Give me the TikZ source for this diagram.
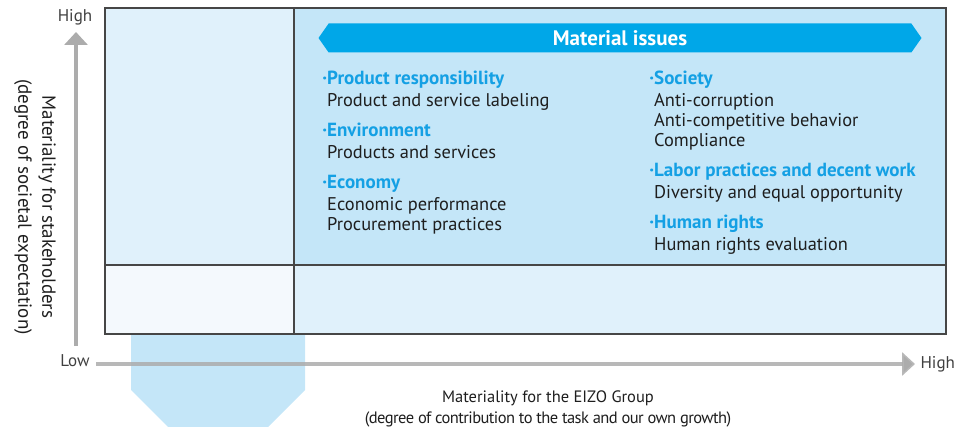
\documentclass[tikz,border=0pt]{standalone}
\usepackage{fontspec}
\setmainfont{PT Sans}
\usetikzlibrary{shapes.symbols, arrows.meta, positioning}
\definecolor{cCellA}{RGB}{224,241,251}
\definecolor{cCellB}{RGB}{196,230,248}
\definecolor{cCellC}{RGB}{244,249,253}
\definecolor{cBanner}{RGB}{0,167,232}
\definecolor{cHead}{RGB}{20,160,228}
\definecolor{cAxis}{RGB}{172,172,172}
\definecolor{cLine}{RGB}{70,70,70}
\definecolor{cText}{RGB}{30,30,30}
\tikzset{
  cellbox/.style={draw=cLine, line width=1.2pt},
  bannernode/.style={signal, signal to=east and west, signal pointer angle=110,
                     fill=cBanner, text=white, font=\fontsize{21}{24}\selectfont\bfseries,
                     minimum width=603pt, minimum height=29pt, inner sep=0pt},
  groupnode/.style={anchor=north west, align=left, inner sep=0pt, text=cText,
                    font=\fontsize{18.4}{20}\selectfont},
  axisarrow/.style={draw=cAxis, line width=4pt,
                    -{Triangle[length=13pt, width=23pt]}},
  axislabel/.style={text=black!75, font=\fontsize{17}{18}\selectfont},
  titlenode/.style={align=center, text=cText, font=\fontsize{16.5}{21}\selectfont},
  sidetitle/.style={align=center, text=cText, font=\fontsize{19}{24}\selectfont}
}
\newcommand{\grouphead}[1]{{\color{cHead}\fontsize{19}{20}\selectfont\bfseries\llap{·}#1}\\[2pt]}

\begin{document}
\begin{tikzpicture}[x=1pt, y=-1pt]
  \useasboundingbox (0,0) rectangle (955,427);
  % quadrants
  \fill[cCellB] (131,334) -- (305,334) -- (305,390) -- (268,427)
    -- (168,427) -- (131,390) -- cycle;
  \fill[cCellA] (105,8) rectangle (294,265);
  \fill[cCellB] (294,8) rectangle (946,265);
  \fill[cCellC] (105,265) rectangle (294,334);
  \fill[cCellA] (294,265) rectangle (946,334);
  \draw[cellbox] (105,8) rectangle (946,334);
  \draw[cellbox] (294,8) -- (294,334);
  \draw[cellbox] (105,265) -- (946,265);

  % axes
  \coordinate (yfoot) at (76,346);
  \coordinate (ytip) at (76,32);
  \coordinate (xfoot) at (96,364);
  \coordinate (xtip) at (915,364);
  \draw[axisarrow] (yfoot) -- (ytip);
  \draw[axisarrow, draw opacity=0.85] (xfoot) -- (xtip);
  \node[axislabel] (yhigh) at (75,17) {High};
  \node[axislabel] (ylow) at (75,361) {Low};
  \node[axislabel, right=2pt of xtip] (xhigh) {High};

  \node[titlenode] (xtitle) at (548,409)
    {Materiality for the EIZO Group\\
     {\addfontfeature{LetterSpace=-3.5}(degree of contribution to the task and our own growth)}};
  \node[sidetitle, rotate=-90] (ytitle) at (35,207)
    {Materiality for stakeholders\\(degree of societal expectation)};

  % material issues
  \node[bannernode] (banner) at (620,38) {Material issues};

  \node[groupnode] (prod) at (327,71)
    {\grouphead{Product responsibility}Product and service labeling};
  \node[groupnode] (env) at (327,123)
    {\grouphead{Environment}Products and services};
  \node[groupnode] (eco) at (327,175)
    {\grouphead{Economy}Economic performance\\Procurement practices};
  \node[groupnode] (soc) at (654,71)
    {\grouphead{Society}Anti-corruption\\Anti-competitive behavior\\Compliance};
  \node[groupnode] (labor) at (654,163)
    {\grouphead{Labor practices and decent work}Diversity and equal opportunity};
  \node[groupnode] (human) at (654,215)
    {\grouphead{Human rights}Human rights evaluation};
\end{tikzpicture}
\end{document}
